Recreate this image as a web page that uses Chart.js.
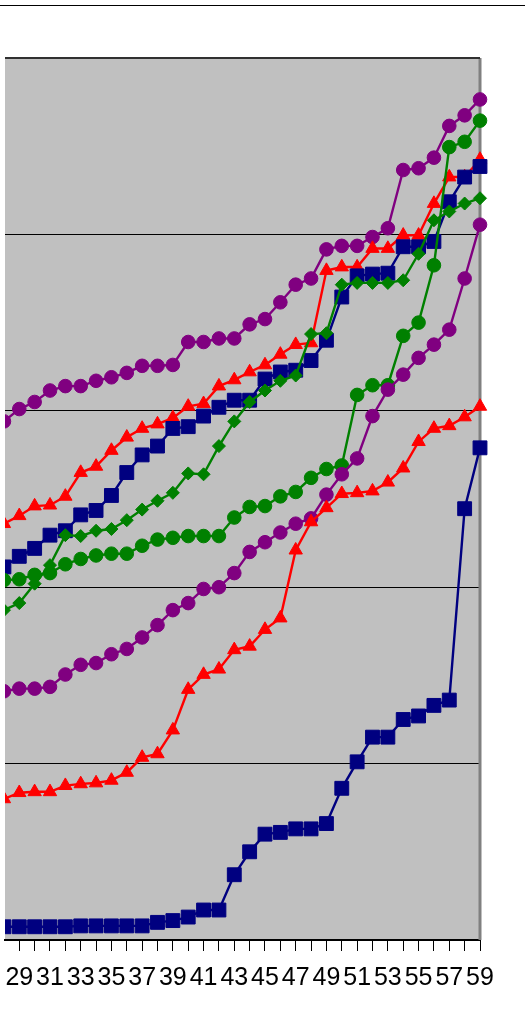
<!DOCTYPE html>
<html>
<head>
<meta charset="utf-8">
<script src="https://cdn.jsdelivr.net/npm/chart.js@4.4.0/dist/chart.umd.min.js"></script>
<style>
  html, body { margin: 0; padding: 0; background: #fff; }
  #wrap { position: relative; width: 525px; height: 1030px; }
  #topRule { position: absolute; left: 0; top: 5px; width: 525px; height: 1px; background: #000; }
  canvas { position: absolute; left: 0; top: 0; }
</style>
</head>
<body>
<div id="wrap">
  <div id="topRule"></div>
  <canvas id="chart" width="525" height="1030"></canvas>
</div>
<script>
// Categories on the x axis (28 is only partly visible at the left edge)
const categories = [28, 29, 30, 31, 32, 33, 34, 35, 36, 37, 38, 39, 40, 41, 42, 43,
                    44, 45, 46, 47, 48, 49, 50, 51, 52, 53, 54, 55, 56, 57, 58, 59];
const tickLabels = ['29', '31', '33', '35', '37', '39', '41', '43', '45', '47', '49', '51', '53', '55', '57', '59'];
const yGridValues = [0, 20, 40, 60, 80, 100];

// Series values
const navyLow = [1.5, 1.5, 1.5, 1.5, 1.5, 1.6, 1.6, 1.6, 1.6, 1.6, 2.0, 2.2, 2.6, 3.4, 3.4, 7.4,
                 10.0, 12.0, 12.2, 12.6, 12.6, 13.2, 17.2, 20.2, 23.0, 23.0, 25.0, 25.4, 26.6, 27.2, 48.9, 55.8];
const redLow = [16.0, 16.7, 16.8, 16.8, 17.5, 17.7, 17.8, 18.1, 19.0, 20.7, 21.1, 23.8, 28.4, 30.1, 30.7, 32.9,
                33.3, 35.2, 36.5, 44.2, 47.4, 49.0, 50.6, 50.7, 50.9, 51.9, 53.5, 56.5, 58.0, 58.3, 59.3, 60.5];
const purpleLow = [28.2, 28.5, 28.5, 28.7, 30.1, 31.2, 31.4, 32.4, 33.0, 34.3, 35.7, 37.4, 38.2, 39.8, 40.0, 41.6,
                   44.0, 45.1, 46.2, 47.2, 47.8, 50.5, 52.8, 54.6, 59.4, 62.4, 64.1, 66.0, 67.5, 69.2, 75.0, 81.1];
const greenCircle = [40.8, 40.9, 41.4, 41.6, 42.6, 43.2, 43.6, 43.8, 43.8, 44.7, 45.4, 45.6, 45.8, 45.8, 45.8, 47.9,
                     49.1, 49.2, 50.3, 50.8, 52.4, 53.4, 53.8, 61.8, 62.9, 62.9, 68.5, 70.0, 76.5, 89.9, 90.5, 92.9];
const greenDiamond = [37.4, 38.2, 40.4, 42.5, 45.9, 45.8, 46.4, 46.6, 47.6, 48.8, 49.8, 50.7, 52.9, 52.8, 56.0, 58.8,
                      61.0, 62.3, 63.4, 64.0, 68.7, 68.8, 74.3, 74.5, 74.5, 74.5, 74.8, 77.8, 81.6, 82.6, 83.5, 84.1];
const navyHigh = [42.3, 43.5, 44.4, 45.9, 46.4, 48.2, 48.7, 50.4, 53.0, 55.0, 56.0, 58.0, 58.2, 59.4, 60.4, 61.2,
                  61.2, 63.6, 64.4, 64.6, 65.7, 68.0, 72.9, 75.3, 75.5, 75.6, 78.6, 78.6, 79.2, 83.7, 86.5, 87.7];
const redHigh = [47.2, 48.1, 49.2, 49.3, 50.3, 53.0, 53.7, 55.5, 57.0, 58.0, 58.5, 59.2, 60.5, 60.8, 62.8, 63.5,
                 64.4, 65.2, 66.4, 67.5, 67.7, 75.9, 76.3, 76.3, 78.4, 78.4, 79.9, 79.9, 83.5, 86.5, 86.5, 88.5];
const purpleHigh = [58.8, 60.2, 61.0, 62.3, 62.8, 62.8, 63.4, 63.8, 64.3, 65.1, 65.1, 65.2, 67.8, 67.8, 68.2, 68.2,
                    69.8, 70.4, 72.3, 74.3, 75.0, 78.3, 78.7, 78.7, 79.7, 80.7, 87.3, 87.5, 88.7, 92.3, 93.5, 95.3];

// Build one line dataset
function makeSeries(label, values, color, style, radius) {
    return {
        label: label,
        data: categories.map((c, i) => ({ x: c, y: values[i] })),
        borderColor: color,
        backgroundColor: color,
        borderWidth: 2.4,
        tension: 0,
        pointStyle: style,
        pointRadius: radius,
        pointBackgroundColor: color,
        pointBorderColor: color,
        pointBorderWidth: 1,
        clip: { left: 0, top: false, right: false, bottom: false }
    };
}

// Gray plot area plus its top and right edges
const plotFrame = {
    id: 'plotFrame',
    beforeDraw(chart) {
        const { ctx, chartArea: a } = chart;
        ctx.save();
        ctx.fillStyle = '#c0c0c0';
        ctx.fillRect(a.left, a.top, a.right - a.left, a.bottom - a.top);
        ctx.restore();
    },
    beforeDatasetsDraw(chart) {
        const { ctx, chartArea: a } = chart;
        ctx.save();
        ctx.strokeStyle = '#808080';
        ctx.lineWidth = 3;
        ctx.beginPath();
        ctx.moveTo(a.right, a.top);
        ctx.lineTo(a.right, a.bottom);
        ctx.stroke();
        ctx.strokeStyle = '#303030';
        ctx.lineWidth = 2;
        ctx.beginPath();
        ctx.moveTo(a.left, a.top);
        ctx.lineTo(a.right, a.top);
        ctx.stroke();
        ctx.restore();
    }
};

const ctx = document.getElementById('chart').getContext('2d');
new Chart(ctx, {
    type: 'line',
    data: {
        datasets: [
            makeSeries('Navy low', navyLow, '#000080', 'rect', 9.8),
            makeSeries('Red low', redLow, '#ff0000', 'triangle', 7.7),
            makeSeries('Purple low', purpleLow, '#800080', 'circle', 6.8),
            makeSeries('Green circles', greenCircle, '#008000', 'circle', 6.8),
            makeSeries('Green diamonds', greenDiamond, '#008000', 'rectRot', 6.5),
            makeSeries('Navy high', navyHigh, '#000080', 'rect', 9.8),
            makeSeries('Red high', redHigh, '#ff0000', 'triangle', 7.7),
            makeSeries('Purple high', purpleHigh, '#800080', 'circle', 6.8)
        ]
    },
    options: {
        responsive: false,
        animation: false,
        events: [],
        layout: {
            autoPadding: false,
            padding: { left: 5, top: 58, right: 45, bottom: 0 }
        },
        plugins: {
            legend: { display: false },
            tooltip: { enabled: false }
        },
        scales: {
            x: {
                type: 'linear',
                min: 28.07,
                max: 59,
                bounds: 'data',
                offset: false,
                afterBuildTicks: scale => {
                    scale.ticks = categories.filter(c => c >= scale.min).map(c => ({ value: c }));
                },
                afterFit: scale => {
                    scale.height = 90;
                    scale.paddingLeft = 0;
                    scale.paddingRight = 0;
                },
                grid: {
                    drawOnChartArea: false,
                    drawTicks: true,
                    tickLength: 11,
                    color: '#000',
                    lineWidth: 1
                },
                border: { display: true, color: '#000', width: 2 },
                ticks: {
                    autoSkip: false,
                    maxRotation: 0,
                    minRotation: 0,
                    padding: 0,
                    color: '#000',
                    font: { family: '"Liberation Sans", Arial, sans-serif', size: 25, lineHeight: 2.2 },
                    callback: value => tickLabels.includes(String(value)) ? String(value) : ''
                }
            },
            y: {
                min: 0,
                max: 100,
                afterBuildTicks: scale => {
                    scale.ticks = yGridValues.map(v => ({ value: v }));
                },
                grid: { color: '#000', lineWidth: 1, drawTicks: false },
                border: { display: false },
                ticks: { display: false }
            }
        }
    },
    plugins: [plotFrame]
});
</script>
</body>
</html>
